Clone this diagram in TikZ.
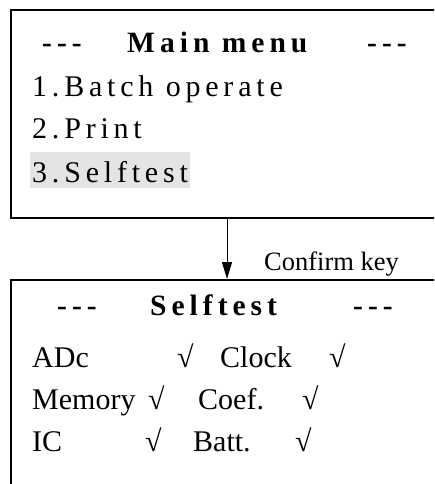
\documentclass[tikz,border=0pt]{standalone}
\usepackage{fontspec}
\setmainfont{Liberation Serif}
\newfontfamily\spaced[LetterSpace=16]{Liberation Serif}
\newfontfamily\spacedtitle[LetterSpace=17]{Liberation Serif}
\usetikzlibrary{arrows.meta}
\definecolor{hilite}{HTML}{E4E4E4}
\tikzset{
  screen/.style={draw, line width=1.6pt, inner sep=0pt, anchor=north west},
  menutext/.style={inner sep=0pt, anchor=base west, font=\spaced\fontsize{30}{36}\selectfont},
  menutitle/.style={inner sep=0pt, anchor=base west, font=\spacedtitle\bfseries\fontsize{29.5}{36}\selectfont},
  rowtext/.style={inner sep=0pt, anchor=base west, font=\fontsize{30}{36}\selectfont},
  keylabel/.style={inner sep=0pt, anchor=base west, font=\fontsize{26.5}{32}\selectfont},
  flow/.style={line width=1pt, -{Triangle[length=17pt,width=10pt]}}
}
\begin{document}
\begin{tikzpicture}[x=1pt,y=-1pt]
\clip (0,0) rectangle (434,484);
\fill[white] (0,0) rectangle (434,484);
% boxes
\node[screen, minimum width=450pt, minimum height=208pt] (menu) at (10,9) {};
\node[screen, minimum width=450pt, minimum height=260pt] (self) at (10,279) {};
% highlight
\fill[hilite] (30,152) rectangle (190,188);
% main menu texts
\node[menutitle] (mt1) at (42,53) {-{}-{}-};
\node[menutitle] (mt2) at (127,53) {Main menu};
\node[menutitle] (mt3) at (367,53) {-{}-{}-};
\node[menutext] (m1) at (32,97) {1.Batch operate};
\node[menutext] (m2) at (32,139) {2.Print};
\node[menutext] (m3) at (32,182) {3.Selftest};
% arrow
\coordinate (ax) at (227,0);
\draw[flow] (menu.south -| ax) -- (self.north -| ax);
\node[keylabel] (key) at (264,270) {Confirm key};
% selftest texts
\node[menutitle] (st1) at (57,315) {-{}-{}-};
\node[menutitle] (st2) at (150,315) {Selftest};
\node[menutitle] (st3) at (353,315) {-{}-{}-};
\node[rowtext] (r1a) at (32,367) {ADc};
\node[rowtext] (r1b) at (177,367) {√};
\node[rowtext] (r1c) at (220,367) {Clock};
\node[rowtext] (r1d) at (329,367) {√};
\node[rowtext] (r2a) at (32,409) {Memory};
\node[rowtext] (r2b) at (148,409) {√};
\node[rowtext] (r2c) at (198,409) {Coef.};
\node[rowtext] (r2d) at (302,409) {√};
\node[rowtext] (r3a) at (32,451) {IC};
\node[rowtext] (r3b) at (145,451) {√};
\node[rowtext] (r3c) at (193,451) {Batt.};
\node[rowtext] (r3d) at (295,451) {√};
\end{tikzpicture}
\end{document}
